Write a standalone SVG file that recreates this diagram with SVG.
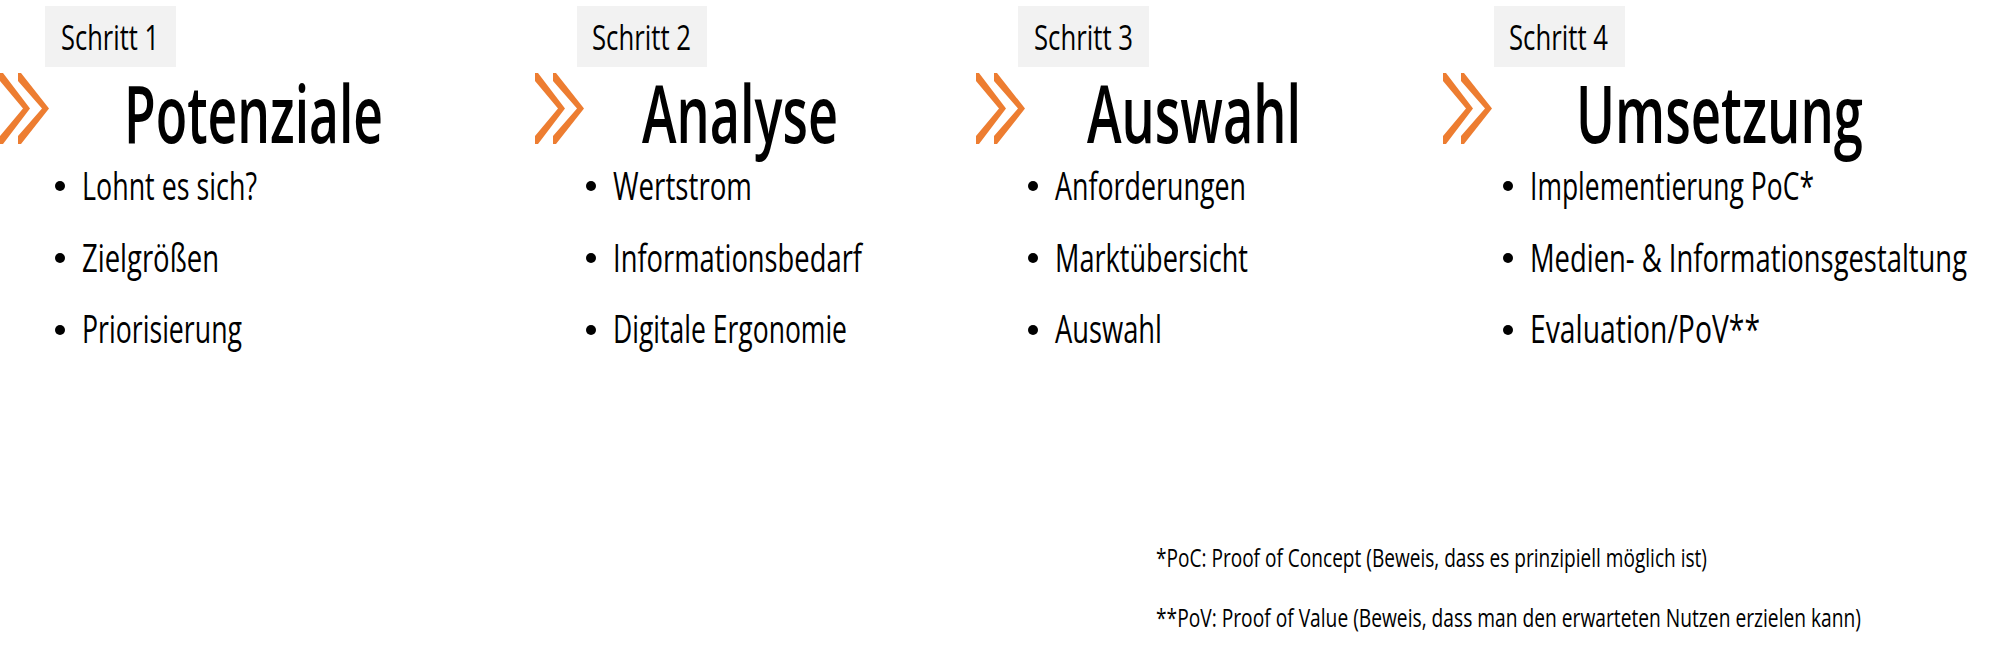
<svg xmlns="http://www.w3.org/2000/svg" xmlns:xlink="http://www.w3.org/1999/xlink" width="1994" height="661" viewBox="0 0 1994 661">
  <style>
    text { font-family: "Open Sans", "Liberation Sans", sans-serif; fill: #000; font-weight: 500; }
    .step { font-size: 34px; }
    .title { font-size: 80px; font-weight: 600; }
    .item { font-size: 39px; }
    .note { font-size: 26px; }
    .box { fill: #F2F2F2; }
    .dot { fill: #000; }
    .chev { fill: #ED7D31; }
  </style>
  <defs>
    <g id="chevrons">
      <path class="chev" d="M0,0 L3,0 L30,35.5 L3,71 L0,71 L0,63 L23,35.5 L0,8 Z"/>
      <path class="chev" d="M18,0 L21,0 L49,35.5 L21,71 L18,71 L18,63 L42,35.5 L18,8 Z"/>
    </g>
  </defs>
  <rect width="1994" height="661" fill="#fff"/>

  <g id="connectors">
    <use xlink:href="#chevrons" href="#chevrons" x="0" y="73"/>
    <use xlink:href="#chevrons" href="#chevrons" x="535" y="73"/>
    <use xlink:href="#chevrons" href="#chevrons" x="976" y="73"/>
    <use xlink:href="#chevrons" href="#chevrons" x="1443" y="73"/>
  </g>

  <g id="step1">
    <rect class="box" x="45" y="6" width="131" height="61"/>
    <text class="step" x="61" y="50" textLength="98" lengthAdjust="spacingAndGlyphs">Schritt 1</text>
    <text class="title" x="124" y="143" textLength="259" lengthAdjust="spacingAndGlyphs">Potenziale</text>
    <circle class="dot" cx="60" cy="186" r="5"/>
    <text class="item" x="82" y="200" textLength="175" lengthAdjust="spacingAndGlyphs">Lohnt es sich?</text>
    <circle class="dot" cx="60" cy="258" r="5"/>
    <text class="item" x="82" y="272" textLength="137" lengthAdjust="spacingAndGlyphs">Zielgrößen</text>
    <circle class="dot" cx="60" cy="330" r="5"/>
    <text class="item" x="82" y="343" textLength="160" lengthAdjust="spacingAndGlyphs">Priorisierung</text>
  </g>

  <g id="step2">
    <rect class="box" x="577" y="6" width="130" height="61"/>
    <text class="step" x="592" y="50" textLength="99" lengthAdjust="spacingAndGlyphs">Schritt 2</text>
    <text class="title" x="642" y="143" textLength="196" lengthAdjust="spacingAndGlyphs">Analyse</text>
    <circle class="dot" cx="591" cy="186" r="5"/>
    <text class="item" x="613" y="200" textLength="139" lengthAdjust="spacingAndGlyphs">Wertstrom</text>
    <circle class="dot" cx="591" cy="258" r="5"/>
    <text class="item" x="613" y="272" textLength="249" lengthAdjust="spacingAndGlyphs">Informationsbedarf</text>
    <circle class="dot" cx="591" cy="330" r="5"/>
    <text class="item" x="613" y="343" textLength="234" lengthAdjust="spacingAndGlyphs">Digitale Ergonomie</text>
  </g>

  <g id="step3">
    <rect class="box" x="1018" y="6" width="131" height="61"/>
    <text class="step" x="1034" y="50" textLength="99" lengthAdjust="spacingAndGlyphs">Schritt 3</text>
    <text class="title" x="1087" y="143" textLength="214" lengthAdjust="spacingAndGlyphs">Auswahl</text>
    <circle class="dot" cx="1033" cy="186" r="5"/>
    <text class="item" x="1055" y="200" textLength="191" lengthAdjust="spacingAndGlyphs">Anforderungen</text>
    <circle class="dot" cx="1033" cy="258" r="5"/>
    <text class="item" x="1055" y="272" textLength="193" lengthAdjust="spacingAndGlyphs">Marktübersicht</text>
    <circle class="dot" cx="1033" cy="330" r="5"/>
    <text class="item" x="1055" y="343" textLength="107" lengthAdjust="spacingAndGlyphs">Auswahl</text>
  </g>

  <g id="step4">
    <rect class="box" x="1494" y="6" width="131" height="61"/>
    <text class="step" x="1509" y="50" textLength="99" lengthAdjust="spacingAndGlyphs">Schritt 4</text>
    <text class="title" x="1576" y="143" textLength="287" lengthAdjust="spacingAndGlyphs">Umsetzung</text>
    <circle class="dot" cx="1508" cy="186" r="5"/>
    <text class="item" x="1530" y="200" textLength="284" lengthAdjust="spacingAndGlyphs">Implementierung PoC*</text>
    <circle class="dot" cx="1508" cy="258" r="5"/>
    <text class="item" x="1530" y="272" textLength="437" lengthAdjust="spacingAndGlyphs">Medien- &amp; Informationsgestaltung</text>
    <circle class="dot" cx="1508" cy="330" r="5"/>
    <text class="item" x="1530" y="343" textLength="230" lengthAdjust="spacingAndGlyphs">Evaluation/PoV**</text>
  </g>

  <g id="footnotes">
    <text class="note" x="1156" y="567" textLength="551" lengthAdjust="spacingAndGlyphs">*PoC: Proof of Concept (Beweis, dass es prinzipiell möglich ist)</text>
    <text class="note" x="1156" y="627" textLength="705" lengthAdjust="spacingAndGlyphs">**PoV: Proof of Value (Beweis, dass man den erwarteten Nutzen erzielen kann)</text>
  </g>
</svg>
